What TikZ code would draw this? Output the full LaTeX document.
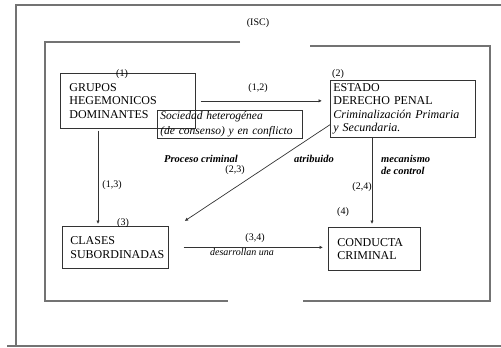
\documentclass[tikz,border=0pt]{standalone}
\usepackage{fontspec}
\setmainfont{Liberation Serif}
\usetikzlibrary{arrows.meta}
\begin{document}
\begin{tikzpicture}[x=1pt,y=-1pt,
 box/.style={draw=black!80, line width=0.7pt, anchor=north west, align=left, inner ysep=0pt, font=\fontsize{12}{13.5}\selectfont},
 frame/.style={draw=black!55, line width=1.2pt},
 conn/.style={draw=black!80, line width=0.7pt, -{Latex[length=3.5pt,width=3.5pt]}},
 lbl/.style={font=\fontsize{10}{12}\selectfont, inner sep=1pt},
 note/.style={font=\fontsize{10.5}{12.5}\selectfont\bfseries\itshape, align=left, inner sep=1pt}
]
\useasboundingbox (0,0) rectangle (501,348);
% frames
\draw[frame] (7,346) -- (501,346);
\draw[frame] (16,346) -- (16,5) -- (501,5);
\draw[frame] (240,42) -- (45,42) -- (45,301) -- (228,301);
\draw[frame] (310,46) -- (490,46) -- (490,301) -- (303,301);
\node[lbl] (isc) at (258,23) {(ISC)};
% boxes
\node[box, inner xsep=9pt, text width=117pt, minimum height=55pt] (g) at (60,73) {GRUPOS\\HEGEMONICOS\\DOMINANTES};
\node[box, font=\fontsize{11.5}{14.5}\selectfont\itshape, inner xsep=3pt, text width=139pt, minimum height=28pt] (s) at (157,110) {Sociedad heterogénea\\(de consenso) y en conflicto};
\node[box, font=\fontsize{12}{13.2}\selectfont, inner xsep=3pt, text width=139pt, minimum height=57pt] (e) at (330,80) {ESTADO\\DERECHO PENAL\\\textit{Criminalización Primaria}\\\textit{y Secundaria.}};
\node[box, inner xsep=8pt, text width=90pt, minimum height=42pt] (c) at (62,226) {CLASES\\SUBORDINADAS};
\node[box, inner xsep=9pt, text width=74pt, minimum height=43pt] (k) at (328,227) {CONDUCTA\\CRIMINAL};
% numbers
\node[lbl] (n1) at (122,74) {(1)};
\node[lbl] (n2) at (338,74) {(2)};
\node[lbl] (n3) at (123,223) {(3)};
\node[lbl] (n4) at (343,212) {(4)};
% connectors
\draw[conn, shorten <=5pt, shorten >=8pt] (g.east) -- (g.east -| e.west);
\draw[conn, shorten <=2pt, shorten >=2pt] ([xshift=38pt]g.south west) -- ([xshift=36pt]c.north west);
\draw[conn] ([yshift=13pt]e.south west) -- ([xshift=16pt,yshift=5pt]c.north east);
\draw[conn, shorten >=3pt] ([xshift=42pt]e.south west) -- ([xshift=44pt]k.north west);
\draw[conn, shorten <=15pt, shorten >=5pt] (c.east) -- (c.east -| k.west);
% labels
\node[lbl] (l12) at (258,88) {(1,2)};
\node[lbl] (l13) at (112,185) {(1,3)};
\node[lbl] (l23) at (235,170) {(2,3)};
\node[lbl] (l24) at (362,187) {(2,4)};
\node[lbl] (l34) at (255,238) {(3,4)};
\node[lbl, font=\fontsize{10}{12}\selectfont\itshape] (des) at (242,252) {desarrollan una};
\node[note] (proc) at (201,159) {Proceso criminal};
\node[note] (atr) at (314,159) {atribuido};
\node[note, anchor=west] (mec) at (380,165) {mecanismo\\de control};
\end{tikzpicture}
\end{document}
